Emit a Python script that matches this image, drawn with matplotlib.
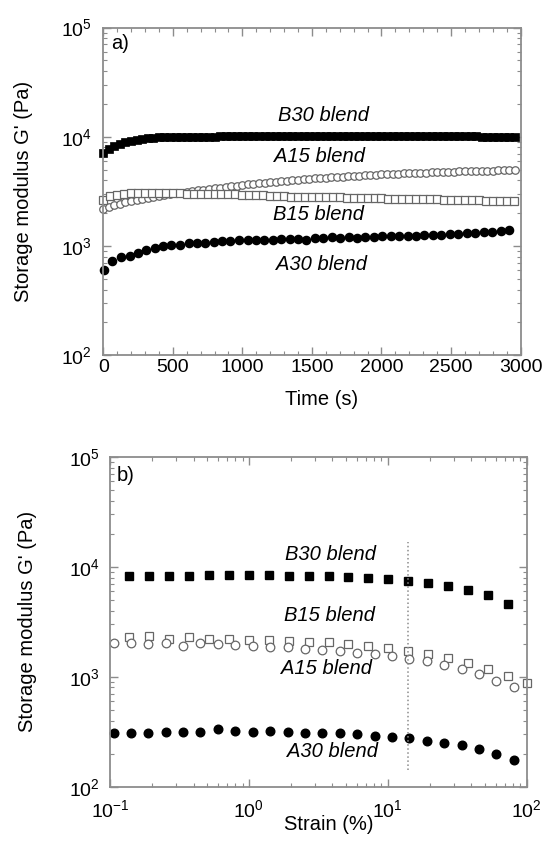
import numpy as np
import matplotlib
matplotlib.use("Agg")
import matplotlib.pyplot as plt
from matplotlib.ticker import LogLocator, MultipleLocator, NullFormatter

plt.rcParams['font.family'] = ['Liberation Sans', 'DejaVu Sans']
plt.rcParams['mathtext.default'] = 'regular'

# ---- panel a: time sweep ----
time_b30 = [0, 40, 80, 120, 160, 200, 240, 280, 320, 360, 400, 440, 480, 520, 560,
            600, 640, 680, 720, 760, 800, 840, 880, 920, 960, 1000, 1040, 1080, 1120, 1160,
            1200, 1240, 1280, 1320, 1360, 1400, 1440, 1480, 1520, 1560, 1600, 1640, 1680, 1720,
            1760, 1800, 1840, 1880, 1920, 1960, 2000, 2040, 2080, 2120, 2160, 2200, 2240, 2280,
            2320, 2360, 2400, 2440, 2480, 2520, 2560, 2600, 2640, 2680, 2720, 2760, 2800, 2840,
            2880, 2920, 2960]
g_b30 = [7100, 7700, 8200, 8600, 8900, 9150, 9350, 9500, 9650, 9750,
         9850, 9900, 9950, 9980, 10000, 10000, 10020, 10030, 10040, 10050,
         10050, 10060, 10070, 10080, 10080, 10090, 10100, 10100, 10110, 10120,
         10120, 10130, 10130, 10140, 10140, 10150, 10150, 10150, 10160, 10160,
         10160, 10170, 10170, 10170, 10160, 10160, 10150, 10150, 10140, 10140,
         10130, 10130, 10120, 10120, 10110, 10110, 10100, 10100, 10100, 10090,
         10090, 10080, 10080, 10080, 10070, 10070, 10060, 10060, 10050, 10050,
         10050, 10040, 10040, 10040, 10030]

time_a15 = time_b30
g_a15 = [2200, 2280, 2360, 2440, 2520, 2590, 2650, 2710, 2770, 2830,
         2880, 2930, 2980, 3030, 3080, 3130, 3180, 3230, 3280, 3330,
         3380, 3430, 3480, 3530, 3580, 3630, 3680, 3730, 3770, 3810,
         3850, 3890, 3930, 3970, 4010, 4050, 4090, 4120, 4160, 4190,
         4230, 4260, 4290, 4320, 4360, 4400, 4420, 4450, 4480, 4500,
         4530, 4550, 4570, 4590, 4620, 4640, 4660, 4680, 4700, 4720,
         4750, 4770, 4780, 4800, 4820, 4840, 4850, 4870, 4880, 4900,
         4910, 4920, 4940, 4950, 4960]

time_b15 = [0, 50, 100, 150, 200, 250, 300, 350, 400, 450, 500, 550, 600, 650, 700,
            750, 800, 850, 900, 950, 1000, 1050, 1100, 1150, 1200, 1250, 1300, 1350, 1400,
            1450, 1500, 1550, 1600, 1650, 1700, 1750, 1800, 1850, 1900, 1950, 2000, 2050,
            2100, 2150, 2200, 2250, 2300, 2350, 2400, 2450, 2500, 2550, 2600, 2650, 2700,
            2750, 2800, 2850, 2900, 2950]
g_b15 = [2650, 2900, 2960, 3000, 3030, 3040, 3050, 3040, 3040, 3030,
         3030, 3030, 3020, 3020, 3010, 3000, 3000, 2990, 2980, 2970,
         2960, 2940, 2930, 2910, 2890, 2870, 2850, 2830, 2820, 2820,
         2810, 2810, 2800, 2800, 2790, 2780, 2770, 2760, 2750, 2740,
         2730, 2720, 2720, 2710, 2700, 2690, 2690, 2680, 2670, 2660,
         2650, 2650, 2640, 2630, 2620, 2610, 2600, 2600, 2590, 2580]

time_a30 = [8, 65, 127, 190, 247, 310, 370, 430, 490, 552, 614, 672, 732, 794, 854,
            914, 977, 1039, 1097, 1157, 1219, 1279, 1339, 1401, 1459, 1521, 1581, 1644,
            1701, 1764, 1824, 1883, 1946, 2006, 2066, 2126, 2188, 2248, 2308, 2371, 2431,
            2491, 2553, 2613, 2673, 2735, 2795, 2858, 2918]
g_a30 = [607, 723, 793, 815, 869, 925, 965, 1000, 1014, 1028, 1065, 1073, 1065, 1088,
         1104, 1104, 1127, 1143, 1127, 1143, 1143, 1151, 1159, 1159, 1143, 1176, 1192,
         1209, 1192, 1201, 1192, 1201, 1209, 1227, 1235, 1235, 1235, 1244, 1253, 1261,
         1270, 1288, 1297, 1306, 1325, 1334, 1354, 1373, 1393]

# ---- panel b: strain sweep ----
strain_b = [0.138, 0.192, 0.267, 0.371, 0.517, 0.719, 1.0, 1.39, 1.94, 2.69, 3.75,
            5.21, 7.25, 10.1, 14.0, 19.5, 27.2, 37.8, 52.6, 73.1, 100.0]
gb_b30 = [8280, 8225, 8340, 8225, 8400, 8400, 8400, 8400, 8280, 8280,
          8225, 8110, 8000, 7725, 7460, 7155, 6720, 6135, 5605, 4640]
gb_b15 = [2278, 2343, 2230, 2278, 2199, 2199, 2153, 2153, 2124, 2080,
          2052, 1967, 1900, 1811, 1723, 1597, 1468, 1322, 1174, 1014, 869]

strain_a = [0.106, 0.141, 0.188, 0.251, 0.336, 0.448, 0.598, 0.798, 1.066, 1.42, 1.90,
            2.53, 3.38, 4.51, 6.02, 8.04, 10.7, 14.3, 19.1, 25.5, 34.0, 45.4, 60.6, 80.9]
gb_a15 = [2037, 2037, 1981, 2037, 1913, 2009, 1981, 1941, 1900, 1873, 1847, 1785,
          1747, 1723, 1663, 1607, 1541, 1459, 1388, 1277, 1174, 1050, 920, 800]
gb_a30 = [310, 310, 310, 316, 316, 316, 334, 321, 316, 323, 312, 310,
          310, 305, 301, 291, 285, 275, 262, 251, 239, 222, 197, 174]

critical_strain = 14.1
critical_span = [143, 17000]

spine_col = '#8c8c8c'
open_col = '#666666'
FS = 14.5


def style_axes(ax):
    for s in ax.spines.values():
        s.set_color(spine_col)
        s.set_linewidth(1.3)
    ax.tick_params(which='both', direction='in', top=True, right=True,
                   color=spine_col, labelsize=14)
    ax.tick_params(which='major', length=5.5, width=1)
    ax.tick_params(which='minor', length=3, width=0.8)
    ax.yaxis.set_minor_locator(LogLocator(base=10, subs=np.arange(2, 10)))
    ax.yaxis.set_minor_formatter(NullFormatter())


fig = plt.figure(figsize=(5.46, 8.41), dpi=100)

# ---------------- panel a ----------------
ax1 = fig.add_axes([0.189, 0.5775, 0.7645, 0.3898])
ax1.plot(time_b30, g_b30, 's', color='black', ms=6, mec='black', mew=0.5, clip_on=False)
ax1.plot(time_a15, g_a15, 'o', mfc='white', mec=open_col, ms=5.4, mew=0.9, clip_on=False)
ax1.plot(time_b15, g_b15, 's', mfc='white', mec=open_col, ms=5.6, mew=0.9, clip_on=False)
ax1.plot(time_a30, g_a30, 'o', color='black', ms=5.9, clip_on=False)
ax1.set_yscale('log')
ax1.set_xlim(0, 3000)
ax1.set_ylim(1e2, 1e5)
ax1.xaxis.set_major_locator(MultipleLocator(500))
ax1.xaxis.set_minor_locator(MultipleLocator(100))
style_axes(ax1)
ax1.tick_params(axis='x', which='both', pad=3)
ax1.tick_params(axis='y', which='both', pad=8)
ax1.set_xlabel('Time (s)', fontsize=FS)
ax1.xaxis.set_label_coords(0.524, -0.105)
ax1.set_ylabel("Storage modulus G' (Pa)", fontsize=FS)
ax1.yaxis.set_label_coords(-0.168, 0.5)
ax1.text(0.018, 0.95, 'a)', transform=ax1.transAxes, fontsize=FS, va='center')
ax1.text(1584, 15800, 'B30 blend', style='italic', fontsize=FS, ha='center', va='center')
ax1.text(1553, 6580, 'A15 blend', style='italic', fontsize=FS, ha='center', va='center')
ax1.text(1545, 1930, 'B15 blend', style='italic', fontsize=FS, ha='center', va='center')
ax1.text(1570, 671, 'A30 blend', style='italic', fontsize=FS, ha='center', va='center')

# ---------------- panel b ----------------
ax2 = fig.add_axes([0.2015, 0.0646, 0.763, 0.392])
ax2.plot(strain_b[:len(gb_b30)], gb_b30, 's', color='black', ms=6, clip_on=False)
ax2.plot(strain_b, gb_b15, 's', mfc='white', mec=open_col, ms=6, mew=0.9, clip_on=False)
ax2.plot(strain_a, gb_a15, 'o', mfc='white', mec=open_col, ms=6.2, mew=0.9, clip_on=False)
ax2.plot(strain_a, gb_a30, 'o', color='black', ms=6.2, clip_on=False)
ax2.plot([critical_strain, critical_strain], critical_span, ':', color='#8c8c8c', lw=1.1)
ax2.set_xscale('log')
ax2.set_yscale('log')
ax2.set_xlim(0.1, 100)
ax2.set_ylim(1e2, 1e5)
ax2.xaxis.set_minor_locator(LogLocator(base=10, subs=np.arange(2, 10)))
ax2.xaxis.set_minor_formatter(NullFormatter())
style_axes(ax2)
ax2.tick_params(axis='x', which='both', pad=9)
ax2.tick_params(axis='y', which='both', pad=7.5)
ax2.set_xlabel('Strain (%)', fontsize=FS)
ax2.xaxis.set_label_coords(0.524, -0.086)
ax2.set_ylabel("Storage modulus G' (Pa)", fontsize=FS)
ax2.yaxis.set_label_coords(-0.175, 0.5)
ax2.text(0.016, 0.945, 'b)', transform=ax2.transAxes, fontsize=FS, va='center')
ax2.text(3.88, 12850, 'B30 blend', style='italic', fontsize=FS, ha='center', va='center')
ax2.text(3.79, 3600, 'B15 blend', style='italic', fontsize=FS, ha='center', va='center')
ax2.text(3.6, 1183, 'A15 blend', style='italic', fontsize=FS, ha='center', va='center')
ax2.text(4.0, 208, 'A30 blend', style='italic', fontsize=FS, ha='center', va='center')

fig.savefig('out.png', dpi=100)
